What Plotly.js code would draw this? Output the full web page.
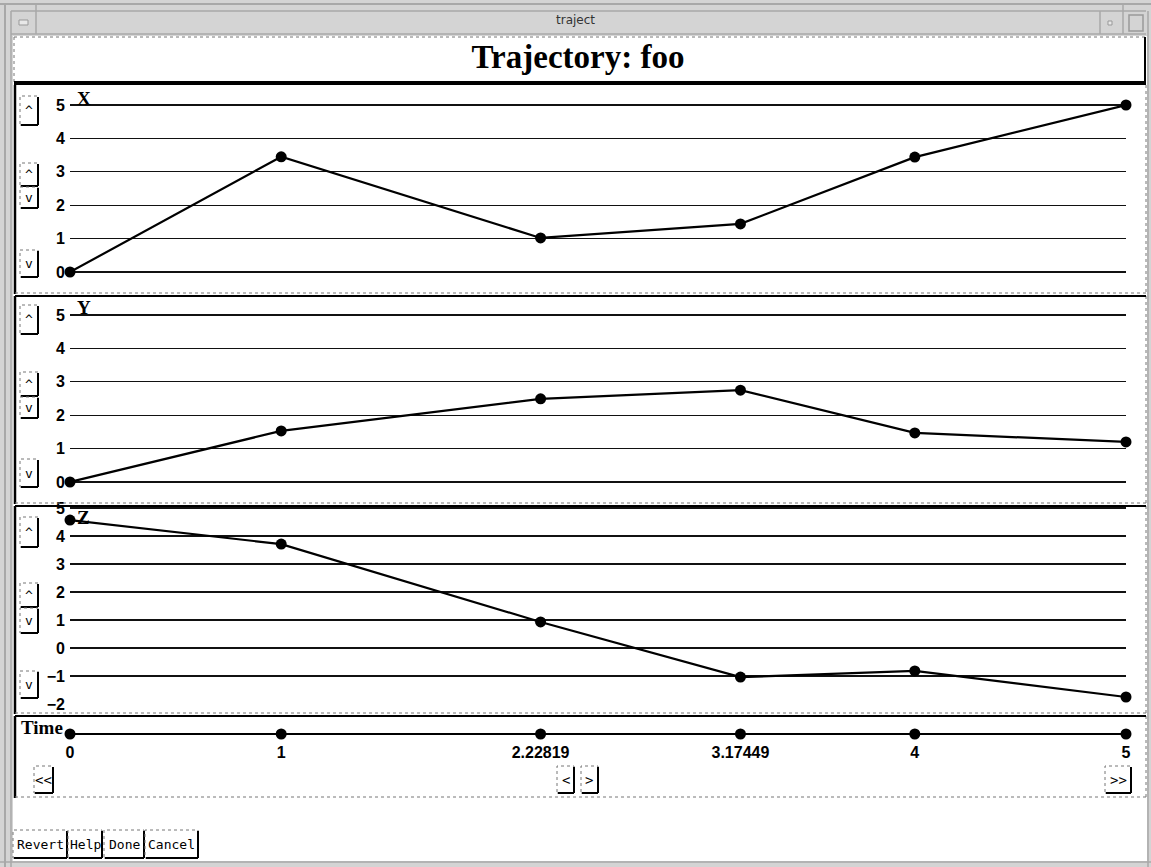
<!DOCTYPE html>
<html><head><meta charset="utf-8">
<script src="https://cdn.plot.ly/plotly-3.0.1.min.js"></script>
<style>html,body{margin:0;padding:0;background:#d4d4d4;}#plot{width:1151px;height:867px;}</style>
</head><body><div id="plot"></div>
<script>
// ---- data ----
const times = [0, 1, 2.22819, 3.17449, 4, 5];
const timeLabels = ['0', '1', '2.22819', '3.17449', '4', '5'];
const xValues = [0, 3.45, 1.02, 1.44, 3.44, 5];
const yValues = [0, 1.53, 2.49, 2.75, 1.47, 1.2];
const zValues = [4.57, 3.71, 0.93, -1.04, -0.82, -1.75];
const panelNames = ['X', 'Y', 'Z'];

// ---- layout helpers (pixel -> paper) ----
const W = 1151, H = 867;
const px = v => v / W;
const py = v => 1 - v / H;
const shapes = [];
const annotations = [];
function rect(x0, y0, x1, y1, opt) {
  shapes.push(Object.assign({type: 'rect', xref: 'paper', yref: 'paper',
    x0: px(x0), x1: px(x1), y0: py(y1), y1: py(y0), line: {width: 0}}, opt));
}
function hline(x0, x1, y, color, width, dash, layer) {
  shapes.push({type: 'line', xref: 'paper', yref: 'paper', x0: px(x0), x1: px(x1), y0: py(y), y1: py(y),
    line: {color: color, width: width, dash: dash || 'solid'}, layer: layer || 'above'});
}
function vline(x, y0, y1, color, width, dash, layer) {
  shapes.push({type: 'line', xref: 'paper', yref: 'paper', x0: px(x), x1: px(x), y0: py(y0), y1: py(y1),
    line: {color: color, width: width, dash: dash || 'solid'}, layer: layer || 'above'});
}
function text(x, y, t, font, xanchor) {
  annotations.push({xref: 'paper', yref: 'paper', x: px(x), y: py(y), text: t, showarrow: false,
    xanchor: xanchor || 'center', yanchor: 'middle', font: font});
}
const monoFam = 'DejaVu Sans Mono, Liberation Mono, monospace';
function button(x0, y0, x1, y1, label, size) {
  rect(x0, y0, x1, y1, {fillcolor: '#fff', line: {color: '#777', width: 1, dash: 'dot'}, layer: 'above'});
  hline(x0 + 1, x1, y1, '#000', 2);
  vline(x1, y0 + 1, y1, '#000', 2);
  text((x0 + x1) / 2, (y0 + y1) / 2, label, {family: monoFam, size: size || 12, color: '#000'});
}

// window chrome
rect(13, 36, 1147, 861, {fillcolor: '#fff', layer: 'below'});
hline(0, 1151, 4, '#a8a8a8', 2, 'solid', 'below');
hline(11, 1146, 11, '#a8a8a8', 1.5, 'solid', 'below');
hline(11, 1146, 34, '#a8a8a8', 1.5, 'solid', 'below');
vline(5, 4, 867, '#a8a8a8', 2, 'solid', 'below');
vline(11, 11, 867, '#a8a8a8', 1.5, 'solid', 'below');
vline(36, 4, 34, '#a8a8a8', 1.5, 'solid', 'below');
vline(1100, 11, 34, '#a8a8a8', 1.5, 'solid', 'below');
vline(1123, 4, 34, '#a8a8a8', 1.5, 'solid', 'below');
vline(1148, 11, 867, '#a8a8a8', 1.5, 'solid', 'below');
hline(0, 1151, 862, '#a8a8a8', 1.5, 'solid', 'below');
rect(19, 20, 28, 25, {fillcolor: '#e8e8e8', line: {color: '#999', width: 1}, layer: 'below'});
rect(1108, 21, 1112, 25, {fillcolor: '#e8e8e8', line: {color: '#999', width: 1}, layer: 'below'});
rect(1129, 15, 1143, 31, {fillcolor: '#d4d4d4', line: {color: '#999', width: 1.5}, layer: 'below'});
text(575, 20, 'traject', {family: 'DejaVu Sans, sans-serif', size: 12, color: '#333'});

// title box
hline(14, 1146, 37, '#777', 1, 'dot');
vline(14, 37, 83, '#777', 1, 'dot');
vline(1145, 37, 83, '#000', 2);
hline(14, 1146, 83, '#000', 4);

// panels
const panels = [[85, 294], [296, 504], [506, 714], [716, 798]];
panels.forEach(([a, b], i) => {
  vline(15, a, b, '#000', 2.5);
  vline(1146, a, b, '#777', 1, 'dot');
  hline(15, 1146, b - 1, '#777', 1, 'dot');
  if (i > 0) hline(15, 1146, a, '#000', 2);
});

// side buttons
const sideButtons = [
  [96, 125, '^'], [163, 186, '^'], [187, 208, 'v'], [250, 277, 'v'],
  [305, 334, '^'], [372, 396, '^'], [397, 418, 'v'], [459, 487, 'v'],
  [517, 547, '^'], [583, 607, '^'], [608, 633, 'v'], [671, 698, 'v']
];
sideButtons.forEach(([a, b, l]) => button(20, a, 38, b, l, 13));

// time buttons
button(34, 766, 53, 793, '&lt;&lt;', 14);
button(557, 766, 574, 793, '&lt;', 14);
button(581, 766, 598, 793, '&gt;', 14);
button(1105, 766, 1131, 793, '&gt;&gt;', 14);

// bottom buttons
button(13, 830, 67, 858, 'Revert', 13);
button(68, 830, 102, 858, 'Help', 13);
button(104, 830, 144, 858, 'Done', 13);
button(145, 830, 198, 858, 'Cancel', 13);

// panel labels
const serifB = {family: 'Liberation Serif, Times New Roman, serif', size: 19, color: '#000', weight: 700};
text(75, 98, panelNames[0], serifB, 'left');
text(75, 308, panelNames[1], serifB, 'left');
text(75, 517, panelNames[2], serifB, 'left');
text(19, 727, 'Time', serifB, 'left');

// ---- traces ----
const lineStyle = {color: '#000', width: 2.2};
const markerStyle = {color: '#000', size: 11, symbol: 'circle'};
const series = [xValues, yValues, zValues];
const traces = series.map((vals, i) => ({
  x: times, y: vals, type: 'scatter', mode: 'lines+markers',
  xaxis: i === 0 ? 'x' : 'x' + (i + 1), yaxis: i === 0 ? 'y' : 'y' + (i + 1),
  line: lineStyle, marker: markerStyle, cliponaxis: false, hoverinfo: 'skip'
}));
traces.push({x: times, y: times.map(() => 0), type: 'scatter', mode: 'lines+markers',
  xaxis: 'x4', yaxis: 'y4', line: lineStyle, marker: markerStyle, cliponaxis: false, hoverinfo: 'skip'});

// ---- axes ----
const tickFont = {family: 'Liberation Sans Narrow, Liberation Sans, Arial, sans-serif', size: 16, color: '#000', weight: 700};
const xDom = [px(70), px(1126)];
function xAx(anchor) {
  return {domain: xDom, range: [0, 5], anchor: anchor, showgrid: false, zeroline: false,
    showticklabels: false, showline: false, ticks: '', fixedrange: true};
}
// top of range padded slightly so the top gridline is drawn
function yAx(top, bottom, lo, hi) {
  const pad = 0.12;
  const pxPerUnit = (bottom - top) / (hi - lo);
  return {domain: [py(bottom), py(top - pad * pxPerUnit)], range: [lo, hi + pad], anchor: 'x', tick0: 0, dtick: 1,
    showgrid: true, gridcolor: '#111', gridwidth: 1.3, zeroline: true, zerolinecolor: '#111', zerolinewidth: 1.3,
    showline: false, ticks: '', tickfont: tickFont, ticklabelstandoff: 4, fixedrange: true};
}
const layout = {
  width: W, height: H, margin: {l: 0, r: 0, t: 0, b: 0},
  paper_bgcolor: '#d4d4d4', plot_bgcolor: 'rgba(0,0,0,0)', showlegend: false,
  title: {text: 'Trajectory: foo', font: {family: 'Liberation Serif, Times New Roman, serif', size: 33, color: '#000', weight: 700},
    x: px(578), y: py(56), xref: 'container', yref: 'container', xanchor: 'center', yanchor: 'middle'},
  xaxis: xAx('y'), xaxis2: xAx('y2'), xaxis3: xAx('y3'),
  xaxis4: Object.assign(xAx('y4'), {showticklabels: true, tickmode: 'array', tickvals: times, ticktext: timeLabels,
    tickfont: tickFont, ticklabelstandoff: 1}),
  yaxis: yAx(105, 272, 0, 5),
  yaxis2: Object.assign(yAx(315, 482, 0, 5), {anchor: 'x2'}),
  yaxis3: Object.assign(yAx(508, 704, -2, 5), {anchor: 'x3'}),
  yaxis4: {domain: [py(740), py(728)], range: [-1, 1], anchor: 'x4', showgrid: false, zeroline: false,
    showticklabels: false, ticks: '', fixedrange: true},
  shapes: shapes, annotations: annotations
};
Plotly.newPlot('plot', traces, layout, {displayModeBar: false, staticPlot: true});
</script></body></html>
